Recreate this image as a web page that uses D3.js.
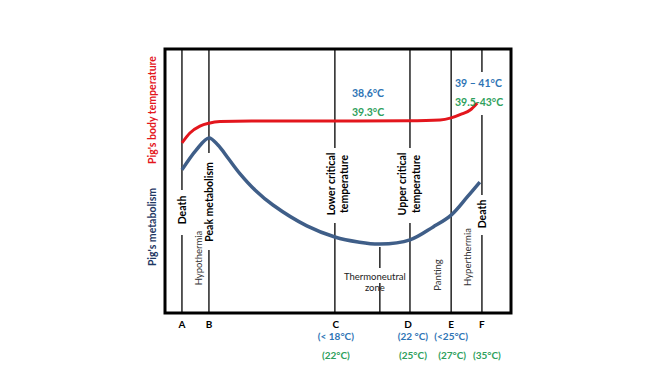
<!DOCTYPE html>
<html>
<head>
<meta charset="utf-8">
<script src="https://cdn.jsdelivr.net/npm/d3@7"></script>
<style>
  body { margin: 0; background: #fff; }
  svg text { font-family: Lato, "Open Sans", sans-serif; }
</style>
</head>
<body>
<svg id="chart" width="650" height="366"></svg>
<script>
// zone markers along the (relative) ambient temperature axis
var markerNames = ["A", "B", "C", "D", "E", "F"];
var markerPos = [4.9, 12.7, 49.1, 70.8, 82.7, 91.6];
var lowTemps = ["", "", "(< 18°C)", "(22 °C)", "(<25°C)", ""];
var highTemps = ["", "", "(22°C)", "(25°C)", "(27°C)", "(35°C)"];
var neutralPos = 62.1;

// body temperature curve (relative units)
var tempX = [4.9, 7.2, 10.1, 12.7, 15.9, 25, 40, 55, 70, 79.5, 82.7, 85.8, 88.2, 90.2];
var tempY = [64.4, 68.2, 70.8, 71.9, 72.5, 72.7, 72.7, 72.7, 72.8, 73.1, 73.9, 75.4, 76.9, 79.5];

// metabolism curve (relative units)
var metX = [4.9, 9.0, 12.7, 15.3, 18.2, 21.7, 26.0, 31.2, 41, 49.1, 55.8, 62.1, 70.8, 77.5, 82.7, 87.3, 91];
var metY = [54.2, 61.7, 66.3, 63.6, 58.7, 52.7, 46.6, 40.9, 33.0, 28.8, 26.9, 26.1, 27.7, 32.6, 37.1, 43.9, 49.6];

var svg = d3.select("#chart");

var x = d3.scaleLinear().domain([0, 100]).range([165, 511]);
var y = d3.scaleLinear().domain([0, 100]).range([313, 49]);

// gaps left in each marker line for the labels (y units)
var gaps = [
  [[46.6, 29.5]],
  [[60.6, 23.9]],
  [[62.5, 34.1]],
  [[62.5, 34.1]],
  [],
  [[91.3, 75], [44.7, 29.5]]
];

function segments(g) {
  var segs = [], top = 100;
  g.forEach(function(p) { segs.push([top, p[0]]); top = p[1]; });
  segs.push([top, 0]);
  return segs;
}

markerPos.forEach(function(p, i) {
  svg.selectAll(null)
    .data(segments(gaps[i]))
    .enter().append("line")
      .attr("x1", x(p)).attr("x2", x(p))
      .attr("y1", function(d) { return y(d[0]); })
      .attr("y2", function(d) { return y(d[1]); })
      .style("stroke", "#000")
      .style("stroke-width", "1.3px");
});

// thermoneutral short line
svg.selectAll(null)
  .data([[25, 17], [11.4, 0]])
  .enter().append("line")
    .attr("x1", x(neutralPos)).attr("x2", x(neutralPos))
    .attr("y1", function(d) { return y(d[0]); })
    .attr("y2", function(d) { return y(d[1]); })
    .style("stroke", "#000")
    .style("stroke-width", "1.3px");

// frame
svg.append("rect")
  .attr("x", x(0)).attr("y", y(100))
  .attr("width", x(100) - x(0)).attr("height", y(0) - y(100))
  .style("fill", "none")
  .style("stroke", "#000")
  .style("stroke-width", "3px");

var line = d3.line()
  .x(function(d) { return x(d[0]); })
  .y(function(d) { return y(d[1]); })
  .curve(d3.curveCatmullRom.alpha(0.5));

svg.append("path")
  .datum(d3.zip(metX, metY))
  .attr("d", line)
  .style("fill", "none")
  .style("stroke", "#3f5e88")
  .style("stroke-width", "3.5px");

svg.append("path")
  .datum(d3.zip(tempX, tempY))
  .attr("d", line.curve(d3.curveMonotoneX))
  .style("fill", "none")
  .style("stroke", "#e3161d")
  .style("stroke-width", "3px");

// rotated labels
function vlabel(cx, cy, txt, bold, size, color) {
  svg.append("text")
    .attr("transform", "translate(" + cx + "," + cy + ") rotate(-90)")
    .attr("text-anchor", "middle")
    .attr("dominant-baseline", "central")
    .style("font-size", size + "px")
    .style("font-weight", bold ? "bold" : "normal")
    .style("fill", color || "#000")
    .text(txt);
}

vlabel(x(markerPos[0]), 210, "Death", true, 10.5);
vlabel(x(markerPos[1]), 202, "Peak metabolism", true, 10.5);
vlabel(198, 258, "Hypothermia", false, 9.5, "#333");
vlabel(x(markerPos[2]) - 4, 184, "Lower critical", true, 10.5);
vlabel(x(markerPos[2]) + 9, 184, "temperature", true, 10.5);
vlabel(x(markerPos[3]) - 8, 184, "Upper critical", true, 10.5);
vlabel(x(markerPos[3]) + 6, 184, "temperature", true, 10.5);
vlabel(437, 275, "Panting", false, 9.5, "#333");
vlabel(467, 257, "Hyperthermia", false, 9.5, "#333");
vlabel(x(markerPos[5]), 214, "Death", true, 10.5);

svg.selectAll(null)
  .data(["Thermoneutral", "zone"])
  .enter().append("text")
    .attr("x", x(neutralPos) - 5)
    .attr("y", function(d, i) { return 280 + i * 11; })
    .attr("text-anchor", "middle")
    .style("font-size", "9.5px")
    .style("fill", "#222")
    .text(function(d) { return d; });

// axis titles
vlabel(152, 110, "Pig's body temperature", true, 10.5, "#e3161d");
vlabel(152, 227, "Pig's metabolism", true, 10.5, "#1f3864");

// temperature annotations
var annos = [
  { x: 352, y: 97, t: "38,6°C", c: "#2e74b5" },
  { x: 352, y: 116, t: "39.3°C", c: "#2ea05c" },
  { x: 455, y: 87, t: "39 – 41°C", c: "#2e74b5" },
  { x: 455, y: 106, t: "39.5-43°C", c: "#2ea05c" }
];
svg.selectAll(null)
  .data(annos)
  .enter().append("text")
    .attr("x", function(d) { return d.x; })
    .attr("y", function(d) { return d.y; })
    .style("font-size", "10.5px")
    .style("font-weight", "bold")
    .style("fill", function(d) { return d.c; })
    .text(function(d) { return d.t; });

// bottom labels
var xLab = [0, 0, 1, 3, 0, 0];
var xHigh = [0, 0, 0, 3, 1, 5];
svg.selectAll(null)
  .data(markerNames)
  .enter().append("text")
    .attr("x", function(d, i) { return x(markerPos[i]) + xLab[i] - (i == 3 ? 5 : 0); })
    .attr("y", 328)
    .attr("text-anchor", "middle")
    .style("font-size", "10px")
    .style("font-weight", "bold")
    .text(function(d) { return d; });

svg.selectAll(null)
  .data(lowTemps)
  .enter().append("text")
    .attr("x", function(d, i) { return x(markerPos[i]) + xLab[i]; })
    .attr("y", 340)
    .attr("text-anchor", "middle")
    .style("font-size", "10px")
    .style("font-weight", "bold")
    .style("fill", "#2e74b5")
    .text(function(d) { return d; });

svg.selectAll(null)
  .data(highTemps)
  .enter().append("text")
    .attr("x", function(d, i) { return x(markerPos[i]) + xHigh[i] + (i == 2 ? 1 : 0); })
    .attr("y", 359)
    .attr("text-anchor", "middle")
    .style("font-size", "10px")
    .style("font-weight", "bold")
    .style("fill", "#2ea05c")
    .text(function(d) { return d; });
</script>
</body>
</html>
